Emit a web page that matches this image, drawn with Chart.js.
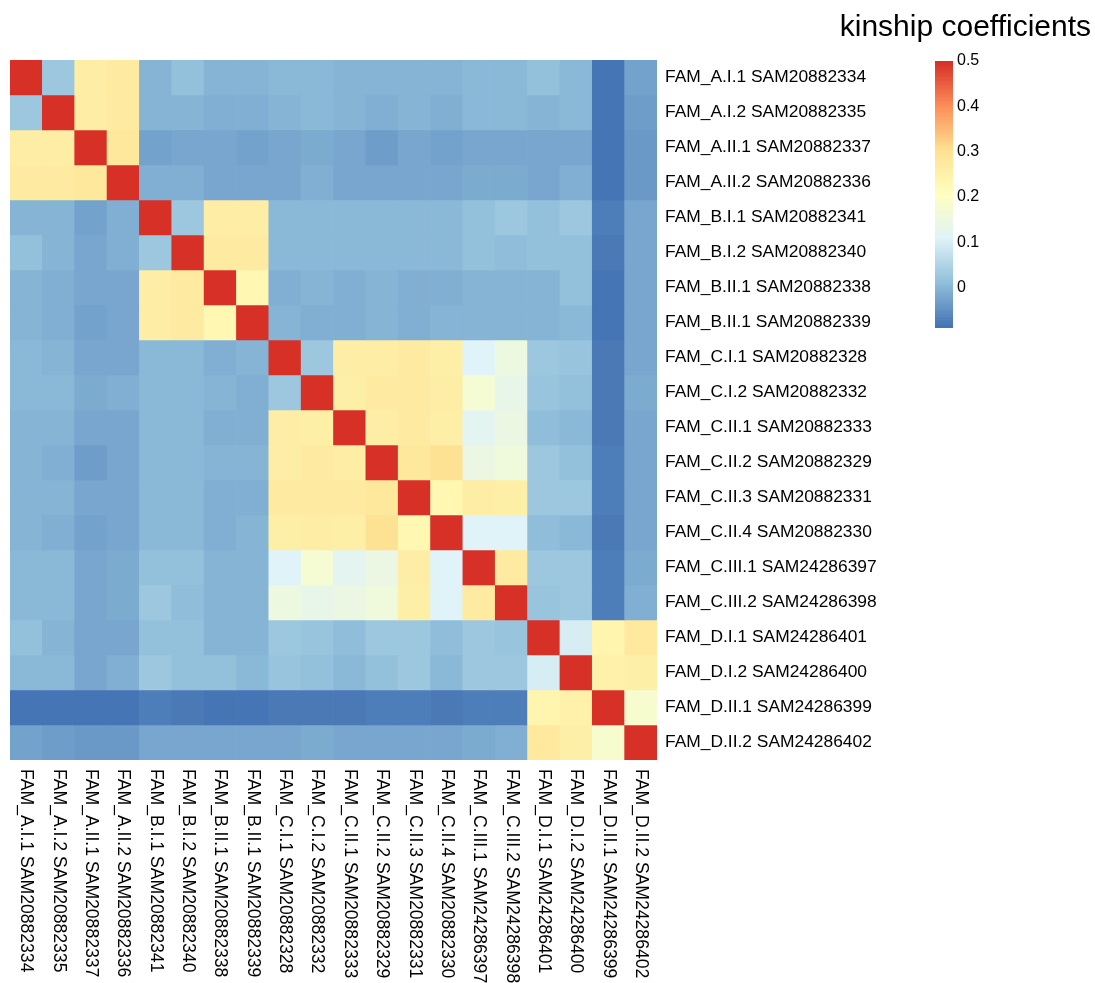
<!DOCTYPE html>
<html>
<head>
<meta charset="utf-8">
<script src="https://cdn.jsdelivr.net/npm/chart.js@4"></script>
<style>
  body { margin: 0; background: #fff; }
  #wrap { position: relative; width: 1095px; height: 983px; overflow: hidden; }
  #heat { position: absolute; left: 0; top: 0; }
  #bar { position: absolute; left: 935px; top: 45px; }
  #title { position: absolute; right: 4px; top: 11px; font: 30px "Liberation Sans", Arial, sans-serif; line-height: 30px; color: #000; white-space: nowrap; }
</style>
</head>
<body>
<div id="wrap">
  <canvas id="heat" width="1095" height="983"></canvas>
  <canvas id="bar" width="160" height="300"></canvas>
  <div id="title">kinship coefficients</div>
</div>
<script>
const sampleLabels = [
  'FAM_A.I.1 SAM20882334', 'FAM_A.I.2 SAM20882335', 'FAM_A.II.1 SAM20882337', 'FAM_A.II.2 SAM20882336',
  'FAM_B.I.1 SAM20882341', 'FAM_B.I.2 SAM20882340', 'FAM_B.II.1 SAM20882338', 'FAM_B.II.1 SAM20882339',
  'FAM_C.I.1 SAM20882328', 'FAM_C.I.2 SAM20882332', 'FAM_C.II.1 SAM20882333', 'FAM_C.II.2 SAM20882329',
  'FAM_C.II.3 SAM20882331', 'FAM_C.II.4 SAM20882330', 'FAM_C.III.1 SAM24286397', 'FAM_C.III.2 SAM24286398',
  'FAM_D.I.1 SAM24286401', 'FAM_D.I.2 SAM24286400', 'FAM_D.II.1 SAM24286399', 'FAM_D.II.2 SAM24286402'
];

// kinship matrix, row i = sampleLabels[i], column j = sampleLabels[j]
const kinship = [
  [0.5, 0.028, 0.263, 0.265, -0.001, 0.013, -0.005, -0.005, 0.005, 0.005, -0.002, -0.002, -0.002, -0.002, 0.005, 0.005, 0.013, 0.004, -0.084, -0.025],
  [0.028, 0.5, 0.262, 0.266, -0.004, -0.004, -0.010, -0.010, -0.006, 0.000, -0.006, -0.007, -0.001, -0.007, 0.004, 0.001, -0.004, 0.000, -0.084, -0.031],
  [0.263, 0.262, 0.5, 0.282, -0.030, -0.019, -0.022, -0.030, -0.023, -0.018, -0.023, -0.032, -0.022, -0.025, -0.020, -0.020, -0.020, -0.020, -0.084, -0.037],
  [0.265, 0.266, 0.282, 0.5, -0.012, -0.012, -0.019, -0.019, -0.020, -0.012, -0.021, -0.024, -0.020, -0.020, -0.013, -0.013, -0.020, -0.012, -0.089, -0.039],
  [-0.001, -0.004, -0.030, -0.012, 0.5, 0.026, 0.263, 0.263, 0.005, 0.005, 0.001, 0.003, 0.004, 0.001, 0.014, 0.025, 0.013, 0.026, -0.076, -0.019],
  [0.013, -0.004, -0.019, -0.012, 0.026, 0.5, 0.268, 0.268, 0.005, 0.005, 0.001, 0.001, 0.001, 0.001, 0.014, 0.006, 0.013, 0.014, -0.082, -0.019],
  [-0.005, -0.010, -0.022, -0.019, 0.263, 0.268, 0.5, 0.234, -0.012, -0.006, -0.012, -0.004, -0.012, -0.012, -0.001, -0.001, -0.004, 0.012, -0.084, -0.023],
  [-0.005, -0.010, -0.030, -0.019, 0.263, 0.268, 0.234, 0.5, -0.006, -0.012, -0.012, -0.006, -0.012, -0.006, -0.001, -0.001, -0.004, 0.005, -0.089, -0.023],
  [0.005, -0.006, -0.023, -0.020, 0.005, 0.005, -0.012, -0.006, 0.5, 0.026, 0.263, 0.263, 0.268, 0.257, 0.109, 0.150, 0.027, 0.020, -0.082, -0.023],
  [0.005, 0.000, -0.018, -0.012, 0.005, 0.005, -0.006, -0.012, 0.026, 0.5, 0.253, 0.265, 0.265, 0.260, 0.172, 0.130, 0.021, 0.015, -0.082, -0.016],
  [-0.002, -0.006, -0.023, -0.021, 0.001, 0.001, -0.012, -0.012, 0.263, 0.253, 0.5, 0.260, 0.265, 0.257, 0.122, 0.146, 0.006, 0.001, -0.082, -0.023],
  [-0.002, -0.007, -0.032, -0.024, 0.003, 0.001, -0.004, -0.006, 0.263, 0.265, 0.260, 0.5, 0.279, 0.295, 0.144, 0.158, 0.027, 0.013, -0.077, -0.020],
  [-0.002, -0.001, -0.022, -0.020, 0.004, 0.001, -0.012, -0.012, 0.268, 0.265, 0.265, 0.279, 0.5, 0.231, 0.263, 0.255, 0.027, 0.027, -0.077, -0.020],
  [-0.002, -0.007, -0.025, -0.020, 0.001, 0.001, -0.012, -0.006, 0.257, 0.260, 0.257, 0.295, 0.231, 0.5, 0.111, 0.108, 0.007, 0.002, -0.083, -0.021],
  [0.005, 0.004, -0.020, -0.013, 0.014, 0.014, -0.001, -0.001, 0.109, 0.172, 0.122, 0.144, 0.263, 0.111, 0.5, 0.269, 0.027, 0.027, -0.073, -0.013],
  [0.005, 0.001, -0.020, -0.013, 0.025, 0.006, -0.001, -0.001, 0.150, 0.130, 0.146, 0.158, 0.255, 0.108, 0.269, 0.5, 0.022, 0.027, -0.073, -0.010],
  [0.013, -0.004, -0.020, -0.020, 0.013, 0.013, -0.004, -0.004, 0.027, 0.021, 0.006, 0.027, 0.027, 0.007, 0.027, 0.022, 0.5, 0.094, 0.238, 0.276],
  [0.004, 0.000, -0.020, -0.012, 0.026, 0.014, 0.012, 0.005, 0.020, 0.015, 0.001, 0.013, 0.027, 0.002, 0.027, 0.027, 0.094, 0.5, 0.247, 0.257],
  [-0.084, -0.084, -0.084, -0.089, -0.076, -0.082, -0.084, -0.089, -0.082, -0.082, -0.082, -0.077, -0.077, -0.083, -0.073, -0.073, 0.238, 0.247, 0.5, 0.179],
  [-0.025, -0.031, -0.037, -0.039, -0.019, -0.019, -0.023, -0.023, -0.023, -0.016, -0.023, -0.020, -0.020, -0.021, -0.013, -0.010, 0.276, 0.257, 0.179, 0.5]
];

const legendTicks = [0, 0.1, 0.2, 0.3, 0.4, 0.5];
const paletteStops = ['#4575B4', '#91BFDB', '#E0F3F8', '#FFFFBF', '#FEE090', '#FC8D59', '#D73027'];
const nColors = 100;

const FONT = '"Liberation Sans", Arial, sans-serif';

function hexToRgb(h) {
  return [parseInt(h.slice(1, 3), 16), parseInt(h.slice(3, 5), 16), parseInt(h.slice(5, 7), 16)];
}
// same idea as colorRampPalette(rev(brewer.pal(7, "RdYlBu")))(100)
const stopsRgb = paletteStops.map(hexToRgb);
const ramp = [];
for (let k = 0; k < nColors; k++) {
  const t = k / (nColors - 1) * (stopsRgb.length - 1);
  const s = Math.min(Math.floor(t), stopsRgb.length - 2);
  const f = t - s;
  const c = stopsRgb[s].map((v, ch) => Math.round(v + (stopsRgb[s + 1][ch] - v) * f));
  ramp.push(`rgb(${c[0]},${c[1]},${c[2]})`);
}

const allVals = kinship.flat();
const vMin = Math.min(...allVals);
const vMax = Math.max(...allVals);
const breaks = [];
for (let k = 0; k <= nColors; k++) breaks.push(vMin + (vMax - vMin) * k / nColors);

function colorFor(v) {
  let idx = Math.floor((v - vMin) / (vMax - vMin) * nColors);
  idx = Math.max(0, Math.min(nColors - 1, idx));
  return ramp[idx];
}

// column labels drawn rotated (reading downwards), like pheatmap
const colLabelPlugin = {
  id: 'colLabels',
  afterDraw(chart) {
    const ctx = chart.ctx;
    const xs = chart.scales.x;
    ctx.save();
    ctx.font = `17.6px ${FONT}`;
    ctx.fillStyle = '#000';
    ctx.textAlign = 'left';
    ctx.textBaseline = 'middle';
    sampleLabels.forEach((lab, i) => {
      ctx.save();
      ctx.translate(xs.getPixelForValue(i), chart.chartArea.bottom + 9);
      ctx.rotate(Math.PI / 2);
      ctx.fillText(lab, 0, 0);
      ctx.restore();
    });
    ctx.restore();
  }
};

new Chart(document.getElementById('heat'), {
  type: 'bar',
  data: {
    labels: sampleLabels,
    datasets: kinship.map((row, i) => ({
      label: sampleLabels[i],
      data: row.map(() => [i, i + 1]),
      backgroundColor: row.map(colorFor),
      borderWidth: 0,
      borderSkipped: false,
      barPercentage: 1,
      categoryPercentage: 1,
      grouped: false
    }))
  },
  options: {
    responsive: false,
    animation: false,
    layout: { padding: { left: 10, top: 60, right: 0, bottom: 0 } },
    plugins: { legend: { display: false }, tooltip: { enabled: false } },
    scales: {
      x: {
        type: 'category',
        grid: { display: false },
        border: { display: false },
        ticks: { display: false },
        afterFit: (s) => { s.height = 223; }
      },
      y: {
        type: 'linear',
        position: 'right',
        min: 0,
        max: sampleLabels.length,
        reverse: true,
        grid: { display: false, drawTicks: false },
        border: { display: false },
        afterBuildTicks: (s) => { s.ticks = sampleLabels.map((_, i) => ({ value: i + 0.5 })); },
        ticks: {
          autoSkip: false,
          padding: 8,
          color: '#000',
          font: { size: 17.4, family: FONT },
          callback: (v, idx) => sampleLabels[idx]
        },
        afterFit: (s) => { s.width = 1095 - 657; }
      }
    }
  },
  plugins: [colLabelPlugin]
});

// colour key
new Chart(document.getElementById('bar'), {
  type: 'bar',
  data: {
    labels: [''],
    datasets: ramp.map((c, k) => ({
      data: [[breaks[k], breaks[k + 1]]],
      backgroundColor: c,
      borderWidth: 0,
      borderSkipped: false,
      barPercentage: 1,
      categoryPercentage: 1,
      grouped: false
    }))
  },
  options: {
    responsive: false,
    animation: false,
    layout: { padding: { left: 0, top: 16, right: 0, bottom: 17 } },
    plugins: { legend: { display: false }, tooltip: { enabled: false } },
    scales: {
      x: { display: false },
      y: {
        type: 'linear',
        position: 'right',
        min: vMin,
        max: vMax,
        grid: { display: false, drawTicks: false },
        border: { display: false },
        afterBuildTicks: (s) => { s.ticks = legendTicks.map(v => ({ value: v })); },
        ticks: {
          padding: 4,
          color: '#000',
          font: { size: 16, family: FONT },
          callback: (v) => (v === 0 ? '0' : v.toFixed(1))
        },
        afterFit: (s) => { s.width = 142; }
      }
    }
  }
});
</script>
</body>
</html>
